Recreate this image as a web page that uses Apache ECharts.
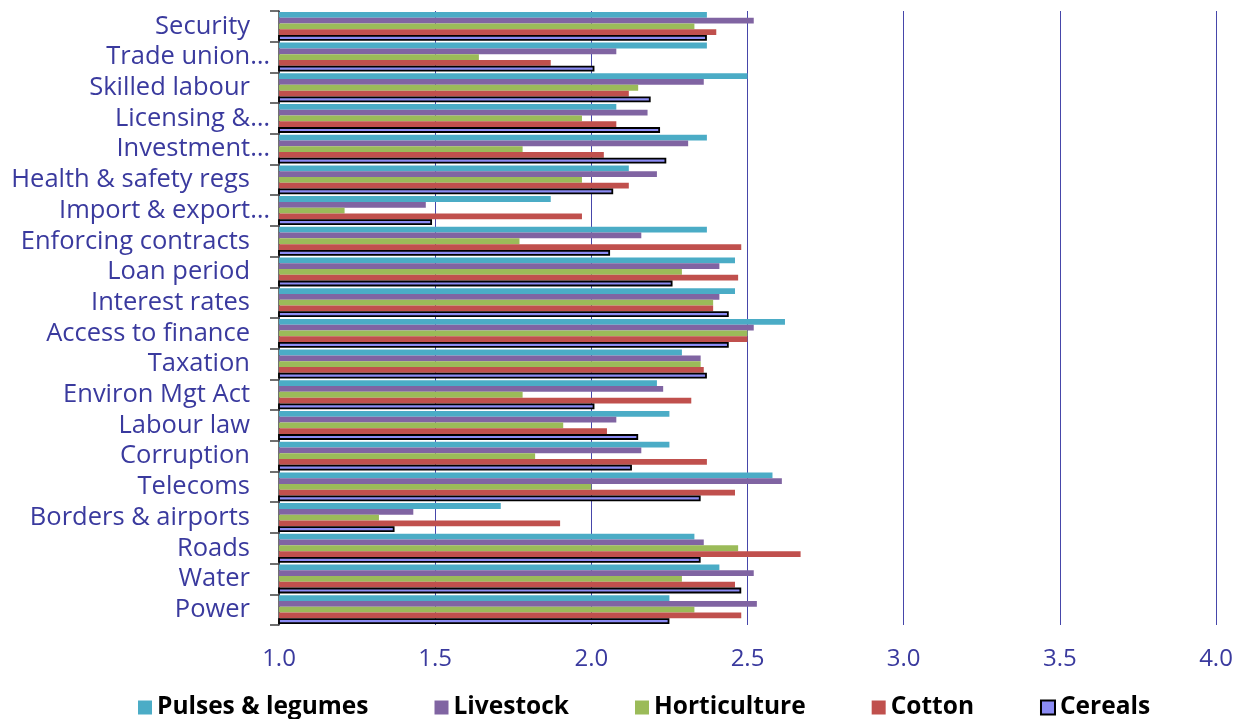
<!DOCTYPE html>
<html>
<head>
<meta charset="utf-8">
<script src="https://cdn.jsdelivr.net/npm/echarts@6/dist/echarts.min.js"></script>
<style>
  html, body { margin: 0; padding: 0; background: #ffffff; }
  #chart { width: 1244px; height: 719px; }
</style>
</head>
<body>
<div id="chart"></div>
<script>
// Constraint categories, listed top to bottom
const categories = ['Security', 'Trade union…', 'Skilled labour', 'Licensing &…', 'Investment…',
  'Health & safety regs', 'Import & export…', 'Enforcing contracts', 'Loan period', 'Interest rates',
  'Access to finance', 'Taxation', 'Environ Mgt Act', 'Labour law', 'Corruption', 'Telecoms',
  'Borders & airports', 'Roads', 'Water', 'Power'];

// Mean scores per sector
const pulses       = [2.37, 2.37, 2.50, 2.08, 2.37, 2.12, 1.87, 2.37, 2.46, 2.46, 2.62, 2.29, 2.21, 2.25, 2.25, 2.58, 1.71, 2.33, 2.41, 2.25];
const livestock    = [2.52, 2.08, 2.36, 2.18, 2.31, 2.21, 1.47, 2.16, 2.41, 2.41, 2.52, 2.35, 2.23, 2.08, 2.16, 2.61, 1.43, 2.36, 2.52, 2.53];
const horticulture = [2.33, 1.64, 2.15, 1.97, 1.78, 1.97, 1.21, 1.77, 2.29, 2.39, 2.50, 2.35, 1.78, 1.91, 1.82, 2.00, 1.32, 2.47, 2.29, 2.33];
const cotton       = [2.40, 1.87, 2.12, 2.08, 2.04, 2.12, 1.97, 2.48, 2.47, 2.39, 2.50, 2.36, 2.32, 2.05, 2.37, 2.46, 1.90, 2.67, 2.46, 2.48];
const cereals      = [2.37, 2.01, 2.19, 2.22, 2.24, 2.07, 1.49, 2.06, 2.26, 2.44, 2.44, 2.37, 2.01, 2.15, 2.13, 2.35, 1.37, 2.35, 2.48, 2.25];

const seriesNames = ['Pulses & legumes', 'Livestock', 'Horticulture', 'Cotton', 'Cereals'];
const xTicks = { min: 1.0, max: 4.0, step: 0.5 };

const FONT = 'Open Sans';
const LABEL_BLUE = '#3A3A9E';
const CAT_SIZE = 25.5;

const chart = echarts.init(document.getElementById('chart'), null, { renderer: 'canvas' });

function bar(name, data, color, extra) {
  return Object.assign({
    name: name,
    type: 'bar',
    data: data,
    barGap: '0%',
    barCategoryGap: '6%',
    itemStyle: { color: color },
    emphasis: { disabled: true }
  }, extra || {});
}

chart.setOption({
  animation: false,
  grid: { left: 279, right: 28, top: 11, bottom: 94, containLabel: false },
  legend: {
    bottom: -6,
    left: 133,
    icon: 'rect',
    itemWidth: 14,
    itemHeight: 14,
    itemGap: 66,
    itemTextGap: 7,
    textStyle: { fontFamily: FONT, fontWeight: 'bold', fontSize: 24.5, color: '#000000' },
    data: seriesNames
  },
  xAxis: {
    type: 'value',
    min: xTicks.min,
    max: xTicks.max,
    interval: xTicks.step,
    axisLine: { show: false },
    axisTick: { show: false },
    splitLine: { show: true, lineStyle: { color: '#4646AA', width: 1 } },
    axisLabel: {
      margin: 22,
      fontFamily: FONT,
      fontSize: 24,
      color: LABEL_BLUE,
      formatter: v => v.toFixed(1)
    }
  },
  yAxis: {
    type: 'category',
    inverse: true,
    data: categories,
    axisLine: { show: true, lineStyle: { color: '#404040', width: 1.5 } },
    axisTick: { show: true, length: 9, lineStyle: { color: '#404040', width: 1.5 } },
    axisLabel: {
      interval: 0,
      margin: 9,
      fontFamily: FONT,
      fontSize: CAT_SIZE,
      color: LABEL_BLUE,
      formatter: v => v.endsWith('…') ? '{t|' + v + '}' : '{p|' + v + '}',
      rich: {
        t: { fontFamily: FONT, fontSize: CAT_SIZE, color: LABEL_BLUE },
        p: { fontFamily: FONT, fontSize: CAT_SIZE, color: LABEL_BLUE, padding: [0, 20, 0, 0] }
      }
    }
  },
  series: [
    bar(seriesNames[0], pulses, '#4BACC6'),
    bar(seriesNames[1], livestock, '#8064A2'),
    bar(seriesNames[2], horticulture, '#9BBB59'),
    bar(seriesNames[3], cotton, '#C0504D'),
    bar(seriesNames[4], cereals, '#8C8CF4', {
      itemStyle: { color: '#8C8CF4', borderColor: '#000000', borderWidth: 1.8 }
    })
  ]
});
</script>
</body>
</html>
